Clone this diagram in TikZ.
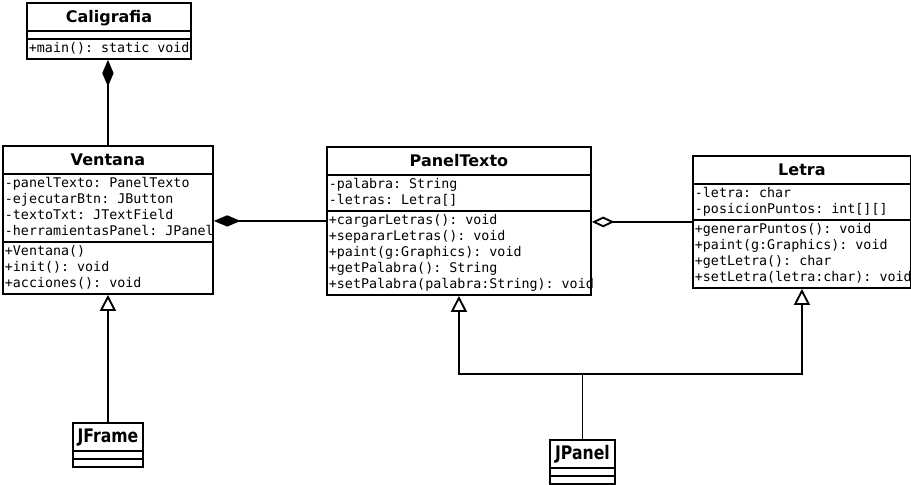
\documentclass[tikz,border=0pt]{standalone}
\usepackage{fontspec}
\setmainfont{DejaVu Sans}
\setmonofont{DejaVu Sans Mono}
\usepackage{graphicx}
\usepackage{tikz}
\usetikzlibrary{shapes.multipart, arrows.meta, positioning}

\newcommand{\cname}[1]{{\rmfamily\bfseries\fontsize{12}{14}\selectfont\rule[-5pt]{0pt}{18pt}#1}}
\newcommand{\jname}[1]{{\rmfamily\bfseries\fontsize{14}{16}\selectfont\rule[-5pt]{0pt}{18pt}\scalebox{0.84}[1]{#1}}}

\begin{document}
\begin{tikzpicture}[x=0.75pt, y=-0.75pt, line width=1.4pt, cls/.style={rectangle split, rectangle split parts=3, draw, anchor=north west, align=left, inner xsep=1.5pt, inner ysep=0.8pt, rectangle split part align={center,left,left}, font=\ttfamily\fontsize{10}{12}\selectfont}, comp/.style={-{Diamond[length=20pt,width=8.5pt]}}, agg/.style={-{Diamond[open,length=17pt,width=8pt]}}, inh/.style={-{Triangle[open,length=12pt,width=12pt]}}]
\useasboundingbox (0,0) rectangle (911,485);
% clases
\node[cls, minimum width=123pt] (cal) at (26,2) {\cname{Caligrafia}\nodepart{two}\rule{0pt}{3pt}\nodepart{three}\strut\rlap{+main(): static void}};
\node[cls, minimum width=157.5pt] (ven) at (2,145) {\cname{Ventana}\nodepart{two}\strut-panelTexto: PanelTexto\\\strut-ejecutarBtn: JButton\\\strut-textoTxt: JTextField\\\strut\rlap{-herramientasPanel: JPanel}\nodepart{three}\strut+Ventana()\\\strut+init(): void\\\strut+acciones(): void};
\node[cls, minimum width=198pt] (pan) at (326,146) {\cname{PanelTexto}\nodepart{two}\strut-palabra: String\\\strut-letras: Letra[]\nodepart{three}\strut+cargarLetras(): void\\\strut+separarLetras(): void\\\strut+paint(g:Graphics): void\\\strut+getPalabra(): String\\\strut\rlap{+setPalabra(palabra:String): void}};
\node[cls, minimum width=163.5pt] (let) at (692,155) {\cname{Letra}\nodepart{two}\strut-letra: char\\\strut-posicionPuntos: int[][]\nodepart{three}\strut+generarPuntos(): void\\\strut+paint(g:Graphics): void\\\strut+getLetra(): char\\\strut\rlap{+setLetra(letra:char): void}};
\node[cls, minimum width=52.5pt] (jf) at (72,422) {\jname{JFrame}\nodepart{two}\rule{0pt}{3pt}\nodepart{three}\rule{0pt}{3pt}};
\node[cls, minimum width=48.75pt] (jp) at (549,439) {\jname{JPanel}\nodepart{two}\rule{0pt}{3pt}\nodepart{three}\rule{0pt}{3pt}};
% relaciones
\draw[comp] (ven.north) -- (ven.north |- cal.south);
\draw[comp] (pan.west) -- (pan.west -| ven.east);
\draw[agg] (let.west) -- (let.west -| pan.east);
\draw[inh] (jf.north) -- (jf.north |- ven.south);
\coordinate (j) at (jp.north |- 0,374);
\draw (jp.north) -- (j);
\draw[inh] (j) -| (pan.south);
\draw[inh] (j) -| (let.south);
\end{tikzpicture}
\end{document}
